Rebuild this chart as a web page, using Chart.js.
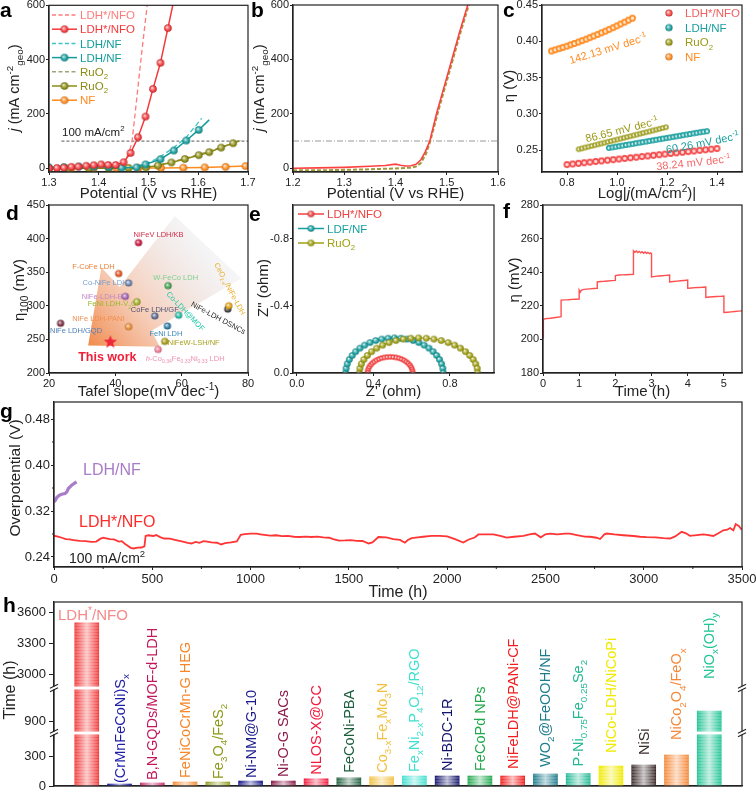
<!DOCTYPE html>
<html>
<head>
<meta charset="utf-8">
<title>LDH*/NFO OER figure</title>
<script src="https://cdn.jsdelivr.net/npm/chart.js@4.4.1/dist/chart.umd.min.js"></script>
<style>
  html, body { margin: 0; padding: 0; background: #fff; }
  #fig { position: relative; width: 756px; height: 792px; overflow: hidden; background: #fff; }
  #fig canvas { position: absolute; left: 0; top: 0; }
</style>
</head>
<body>
<div id="fig">
  <canvas id="pa" width="756" height="792"></canvas>
  <canvas id="pb" width="756" height="792"></canvas>
  <canvas id="pc" width="756" height="792"></canvas>
  <canvas id="pd" width="756" height="792"></canvas>
  <canvas id="pe" width="756" height="792"></canvas>
  <canvas id="pf" width="756" height="792"></canvas>
  <canvas id="pg" width="756" height="792"></canvas>
  <canvas id="ph" width="756" height="792"></canvas>
</div>
<script>
// ---- a: LSV curves (V vs RHE, mA cm-2) ----
const aStarV = [1.300,1.316,1.330,1.345,1.359,1.375,1.390,1.405,1.419,1.434,1.450,1.464,1.479,1.494,1.509,1.524,1.539,1.550];
const aStarJ = [0,1,2,5,6,9,11,14,12,12,22,56,114,190,292,388,516,610];
const aStarIrV = [1.430,1.445,1.455,1.462,1.467,1.476,1.486,1.498];
const aStarIrJ = [10,18,35,65,100,250,420,610];
const aLdhV = [1.300,1.330,1.360,1.390,1.420,1.446,1.476,1.494,1.524,1.551,1.576,1.601,1.622];
const aLdhJ = [3,4,6,5,4,2,3,14,33,65,102,141,178];
const aLdhIrV = [1.446,1.470,1.495,1.520,1.548,1.575,1.607];
const aLdhIrJ = [2,5,16,38,72,112,184];
const aRuV = [1.300,1.340,1.380,1.420,1.460,1.495,1.519,1.546,1.573,1.601,1.622,1.646,1.670,1.682];
const aRuJ = [-2,-1,0,0,1,3,10,21,34,48,59,76,92,100];
const aRuIrV = [1.495,1.520,1.550,1.580,1.610,1.640,1.685];
const aRuIrJ = [4,12,25,40,56,74,102];
const aNfV = [1.300,1.345,1.390,1.435,1.480,1.525,1.570,1.613,1.655,1.695];
const aNfJ = [0,0,0,1,1,1,2,3,5,8];
const aLegend = ['LDH*/NFO', 'LDH*/NFO', 'LDH/NF', 'LDH/NF', 'RuO_{2}', 'RuO_{2}', 'NF'];

// ---- b: LSV before / after ----
const bV1 = [1.20,1.25,1.30,1.35,1.38,1.40,1.41,1.42,1.43,1.44,1.45,1.458,1.467,1.48,1.495,1.51,1.525,1.541,1.545];
const bJ1 = [0,1,3,7,10,15,11,8,9,14,32,60,100,200,300,400,500,600,625];
const bV2 = [1.20,1.25,1.30,1.35,1.40,1.43,1.44,1.45,1.46,1.468,1.482,1.497,1.512,1.527,1.543,1.548];
const bJ2 = [-8,-8,-6,-4,-1,2,6,20,55,100,200,300,400,500,600,625];

// ---- c: Tafel plots (log j, eta V) ----
const cNfX = [0.738,0.753,0.769,0.784,0.800,0.815,0.830,0.846,0.861,0.877,0.892,0.907,0.923,0.938,0.954,0.969,0.985,1.000,1.015,1.031,1.046,1.062];
const cNfY = [0.3866,0.3882,0.3899,0.3916,0.3933,0.3952,0.3970,0.3990,0.4010,0.4030,0.4051,0.4073,0.4095,0.4117,0.4140,0.4164,0.4188,0.4213,0.4239,0.4265,0.4291,0.4318];
const cRuX = [0.847,0.860,0.873,0.886,0.899,0.912,0.925,0.937,0.950,0.963,0.976,0.989,1.002,1.015,1.028,1.041,1.054,1.067,1.080,1.093,1.105,1.118,1.131,1.144,1.157,1.170,1.183,1.196];
const cRuY = [0.2514,0.2525,0.2537,0.2548,0.2559,0.2570,0.2582,0.2592,0.2603,0.2615,0.2626,0.2637,0.2648,0.2660,0.2671,0.2682,0.2694,0.2705,0.2716,0.2727,0.2738,0.2749,0.2760,0.2772,0.2783,0.2794,0.2806,0.2817];
const cLdhX = [0.968,0.982,0.995,1.009,1.022,1.036,1.049,1.063,1.076,1.090,1.103,1.117,1.130,1.144,1.157,1.171,1.184,1.198,1.211,1.225,1.238,1.252,1.265,1.279,1.292,1.306,1.319,1.333,1.346,1.360];
const cLdhY = [0.2532,0.2540,0.2548,0.2556,0.2564,0.2572,0.2580,0.2588,0.2596,0.2604,0.2612,0.2620,0.2628,0.2636,0.2644,0.2652,0.2660,0.2668,0.2676,0.2684,0.2692,0.2700,0.2708,0.2716,0.2724,0.2732,0.2740,0.2748,0.2755,0.2762];
const cStarX = [0.800,0.823,0.846,0.869,0.892,0.915,0.938,0.962,0.985,1.008,1.031,1.054,1.077,1.100,1.123,1.146,1.169,1.192,1.215,1.238,1.262,1.285,1.308,1.331,1.354,1.377,1.400];
const cStarY = [0.2302,0.2311,0.2319,0.2328,0.2336,0.2345,0.2353,0.2362,0.2370,0.2379,0.2387,0.2396,0.2404,0.2413,0.2421,0.2430,0.2438,0.2447,0.2455,0.2464,0.2472,0.2481,0.2489,0.2498,0.2506,0.2515,0.2523];
const cLegend = ['LDH*/NFO', 'LDH/NF', 'RuO_{2}', 'NF'];
const cSlopes = ['142.13 mV dec^{-1}', '86.65 mV dec^{-1}', '60.26 mV dec^{-1}', '38.24 mV dec^{-1}'];

// ---- d: literature comparison (Tafel slope, eta100) ----
const dNames = ['NiFeV LDH/KB','F-CoFe LDH','Co-NiFe LDH','NiFe-LDH-Bi','FeNi LDH-V_{2}C','CoFe LDH/GF','NiFe LDH-PANI','NiFe LDH/GQD','W-FeCo LDH','Co-LDH@MOF','FeNi LDH','NiFeW-LSH/NF','~{h}-Co_{0.34}Fe_{0.33}Ni_{0.33} LDH','NiFe-LDH DSNCs','CeO_{2-x}/NiFe-LDH'];
const dTafel = [47.0,41.0,44.0,43.0,46.5,51.9,44.0,23.5,55.9,59.1,55.7,54.9,52.9,73.9,74.2];
const dEta100 = [394,348,334,314,306,285,269,274,330,286,270,247,235,295,300];
const dWorkTafel = [38.5];
const dWorkEta = [246];

// ---- e: Nyquist plots (ohm) ----
const eLdhX = [0.255,0.2572,0.2637,0.2744,0.2892,0.3077,0.3297,0.3548,0.3825,0.4124,0.4440,0.4767,0.5100,0.5433,0.5760,0.6076,0.6375,0.6652,0.6903,0.7123,0.7308,0.7456,0.7563,0.7628,0.7650];
const eLdhY = [0,-0.0273,-0.0541,-0.0800,-0.1045,-0.1272,-0.1478,-0.1658,-0.1810,-0.1931,-0.2019,-0.2072,-0.2090,-0.2072,-0.2019,-0.1931,-0.1810,-0.1658,-0.1478,-0.1272,-0.1045,-0.0800,-0.0541,-0.0273,0];
const eRuX = [0.327,0.3297,0.3375,0.3505,0.3684,0.3908,0.4175,0.4479,0.4815,0.5177,0.5560,0.5957,0.6360,0.6763,0.7160,0.7543,0.7905,0.8241,0.8545,0.8812,0.9036,0.9215,0.9345,0.9423,0.9450];
const eRuY = [0,-0.0273,-0.0541,-0.0800,-0.1045,-0.1272,-0.1478,-0.1658,-0.1810,-0.1931,-0.2019,-0.2072,-0.2090,-0.2072,-0.2019,-0.1931,-0.1810,-0.1658,-0.1478,-0.1272,-0.1045,-0.0800,-0.0541,-0.0273,0];
const eStarX = [0.3695,0.3705,0.3735,0.3785,0.3853,0.3939,0.4041,0.4157,0.4285,0.4423,0.4570,0.4721,0.4875,0.5029,0.5180,0.5327,0.5465,0.5593,0.5709,0.5811,0.5897,0.5965,0.6015,0.6045,0.6055];
const eStarY = [0,-0.0125,-0.0248,-0.0367,-0.0480,-0.0584,-0.0679,-0.0762,-0.0831,-0.0887,-0.0927,-0.0952,-0.0960,-0.0952,-0.0927,-0.0887,-0.0831,-0.0762,-0.0679,-0.0584,-0.0480,-0.0367,-0.0248,-0.0125,0];
const eLegend = ['LDH*/NFO', 'LDF/NF', 'RuO_{2}'];

// ---- f: multi-step chronopotentiometry (h, mV) ----
const fTime = [0,0.01,0.03,0.1,0.2,0.3,0.4,0.5, 0.5,0.6,0.7,0.8,0.9,1.0, 1.0,1.03,1.06,1.1,1.2,1.3,1.4,1.5,
  1.5,1.6,1.7,1.8,1.9,2.0, 2.0,2.1,2.2,2.3,2.4,2.5, 2.5,2.54,2.58,2.62,2.66,2.7,2.74,2.78,2.82,2.86,2.9,2.94,2.98,3.0,
  3.0,3.1,3.2,3.3,3.4,3.5, 3.5,3.6,3.7,3.8,3.9,4.0, 4.0,4.1,4.2,4.3,4.4,4.5, 4.5,4.6,4.7,4.8,4.9,5.0, 5.0,5.1,5.2,5.3,5.4,5.5];
const fEta = [201,211.4,212.1,212.4,212.6,212.9,213.2,213.5, 223.4,223.5,223.6,223.8,223.9,224.0, 229.4,228.2,229.2,229.6,229.9,230.1,230.3,230.4,
  234.2,234.5,234.6,234.8,235.0,235.1, 238.0,238.3,238.4,238.5,238.6,238.7, 252.8,251.9,252.6,251.7,252.4,251.5,252.2,251.3,252.0,251.2,251.8,251.0,251.5,250.8,
  237.2,237.5,237.7,237.9,238.1,238.3, 234.2,234.5,234.7,234.9,235.1,235.3, 230.4,230.6,230.8,230.9,231.0,231.2, 225.0,225.2,225.4,225.5,225.6,225.8, 216.0,216.2,216.4,216.6,216.8,217.0];

// ---- g: long-term stability at 100 mA/cm2 (h, V) ----
const gTime = [0,20,40,60,80,100,130,160,190,215,
  235,250,265,285,305,330,345,360,375,390,
  405,425,445,460,466,480,505,520,540,560,
  590,620,650,680,700,720,740,760,780,800,
  830,850,870,900,930,950,970,1000,1030,1050,
  1080,1100,1130,1160,1190,1220,1250,1280,1310,1340,
  1370,1400,1420,1450,1480,1510,1540,1570,1600,1620,
  1650,1690,1726,1760,1785,1800,1820,1850,1878,1920,
  1963,2000,2040,2082,2110,2140,2159,2190,2235,2270,
  2303,2340,2388,2420,2447,2476,2500,2523,2560,2600,
  2625,2660,2700,2727,2760,2778,2800,2812,2850,2896,
  2950,2980,3015,3060,3100,3134,3160,3193,3215,3235,
  3270,3303,3330,3354,3380,3405,3425,3439,3456,3468,
  3485,3498];
const gEta = [0.2770,0.2755,0.2735,0.2710,0.2705,0.2695,0.2680,0.2675,0.2662,0.2668,
  0.2715,0.2735,0.2725,0.2712,0.2705,0.2668,0.2675,0.2630,0.2595,0.2560,
  0.2548,0.2562,0.2565,0.2585,0.2766,0.2778,0.2765,0.2782,0.2745,0.2722,
  0.2718,0.2695,0.2672,0.2645,0.2635,0.2662,0.2645,0.2675,0.2668,0.2655,
  0.2648,0.2618,0.2642,0.2655,0.2672,0.2785,0.2798,0.2808,0.2805,0.2795,
  0.2782,0.2772,0.2778,0.2762,0.2768,0.2752,0.2748,0.2755,0.2748,0.2755,
  0.2742,0.2735,0.2712,0.2685,0.2688,0.2695,0.2682,0.2678,0.2635,0.2655,
  0.2748,0.2742,0.2712,0.2698,0.2648,0.2695,0.2728,0.2742,0.2752,0.2768,
  0.2768,0.2758,0.2712,0.2652,0.2705,0.2738,0.2792,0.2795,0.2795,0.2768,
  0.2738,0.2752,0.2768,0.2792,0.2808,0.2742,0.2795,0.2808,0.2795,0.2808,
  0.2805,0.2782,0.2755,0.2752,0.2735,0.2712,0.2795,0.2808,0.2792,0.2778,
  0.2765,0.2752,0.2745,0.2742,0.2728,0.2722,0.2758,0.2838,0.2812,0.2768,
  0.2782,0.2795,0.2782,0.2766,0.2812,0.2865,0.2875,0.2905,0.2865,0.2972,
  0.2935,0.2876];
const gNfTime = [0,7,14,25,39,56,65,73,90,105,115];
const gNfEta = [0.3359,0.3385,0.3434,0.3470,0.3492,0.3504,0.3530,0.3591,0.3649,0.3685,0.3707];

// ---- h: stability time of reported catalysts (h) ----
const hCats = ['LDH^{*}/NFO','(CrMnFeCoNi)S_{x}','B,N-GQDs/MOF-d-LDH','FeNiCoCrMn-G HEG','Fe_{3}O_{4}/FeS_{2}','Ni-NM@G-10','Ni-O-G SACs','NLOS-X@CC','FeCoNi-PBA','Co_{3-x}Fe_{x}Mo_{3}N','Fe_{x}Ni_{2-x}P_{4}O_{12}/RGO','Ni-BDC-1R','FeCoPd NPs','NiFeLDH@PANi-CF','WO_{2}@FeOOH/NF','P-Ni_{0.75}Fe_{0.25}Se_{2}','NiCo-LDH/NiCoPi','NiSi','NiCo_{2}O_{4}/FeO_{x}','NiO_{x}(OH)_{y}'];
const hHours = [3500,20,30,40,40,50,50,72,82,92,100,100,100,100,120,125,200,210,310,1000];
const hTickHours = [0,300,900,3000,3300,3600];

// ---------------------------------------------------------------
const FONT = "'Liberation Sans', Arial, Helvetica, sans-serif";
const INK = '#222222';
const W = 756, H = 792;
const RED = '#f4383c', RED_L = '#ff7b7b', TEAL = '#139c9c', TEAL_L = '#3cc4c4';
const OLIVE = '#8c8c14', OLIVE_L = '#a3a37a', ORANGE = '#ff8a1e';

Chart.defaults.font.family = FONT;
Chart.defaults.color = INK;
Chart.defaults.animation = false;
Chart.defaults.responsive = false;
Chart.defaults.devicePixelRatio = 1;
Chart.defaults.events = [];
Chart.defaults.plugins.legend.display = false;
Chart.defaults.plugins.tooltip.enabled = false;

function mix(hex, to, t) {
  const p = h => [1, 3, 5].map(i => parseInt(h.slice(i, i + 2), 16));
  const a = p(hex), b = p(to);
  return 'rgb(' + a.map((v, i) => Math.round(v + (b[i] - v) * t)).join(',') + ')';
}

// small shaded ball used as marker
function sphere(col, r) {
  const s = Math.ceil(r * 2) + 2, m = s / 2;
  const c = document.createElement('canvas');
  c.width = c.height = s;
  const g = c.getContext('2d');
  const gr = g.createRadialGradient(m - r * 0.3, m - r * 0.3, 0, m, m, r);
  gr.addColorStop(0, '#ffffff');
  gr.addColorStop(0.35, mix(col, '#ffffff', 0.4));
  gr.addColorStop(0.75, col);
  gr.addColorStop(1, mix(col, '#000000', 0.3));
  g.fillStyle = gr;
  g.beginPath(); g.arc(m, m, r, 0, 2 * Math.PI); g.fill();
  return c;
}

// open-looking marker: coloured ring with a pale centre
function ring(col, r) {
  const s = Math.ceil(r * 2) + 2, m = s / 2;
  const c = document.createElement('canvas');
  c.width = c.height = s;
  const g = c.getContext('2d');
  g.fillStyle = col;
  g.beginPath(); g.arc(m, m, r, 0, 2 * Math.PI); g.fill();
  g.fillStyle = mix(col, '#ffffff', 0.8);
  g.beginPath(); g.arc(m, m, r * 0.5, 0, 2 * Math.PI); g.fill();
  return c;
}

function star(col, r) {
  const s = Math.ceil(r * 2) + 2, m = s / 2;
  const c = document.createElement('canvas');
  c.width = c.height = s;
  const g = c.getContext('2d');
  g.fillStyle = col;
  g.beginPath();
  for (let k = 0; k < 10; k++) {
    const rr = k % 2 ? r * 0.42 : r, a = -Math.PI / 2 + k * Math.PI / 5;
    g.lineTo(m + rr * Math.cos(a), m + rr * Math.sin(a));
  }
  g.closePath(); g.fill();
  return c;
}

// tiny markup: _{sub} ^{sup} ~{italic}
function parse(s) {
  const out = [];
  let buf = '', i = 0;
  while (i < s.length) {
    const c = s[i];
    if ((c === '_' || c === '^' || c === '~') && s[i + 1] === '{') {
      if (buf) out.push([buf, '']);
      buf = '';
      const j = s.indexOf('}', i);
      out.push([s.slice(i + 2, j), c === '_' ? 'sub' : c === '^' ? 'sup' : 'i']);
      i = j + 1;
    } else { buf += c; i++; }
  }
  if (buf) out.push([buf, '']);
  return out;
}

function rich(ctx, s, x, y, o = {}) {
  const size = o.size || 11;
  const segs = parse(s).map(([t, k]) => {
    const small = k === 'sub' || k === 'sup';
    const f = (k === 'i' ? 'italic ' : '') + (o.bold ? 'bold ' : '') + (small ? size * 0.68 : size) + 'px ' + FONT;
    ctx.font = f;
    return { t, k, f, w: ctx.measureText(t).width };
  });
  const total = segs.reduce((a, g) => a + g.w, 0);
  ctx.save();
  ctx.translate(x, y);
  if (o.rot) ctx.rotate(o.rot * Math.PI / 180);
  ctx.fillStyle = o.color || INK;
  ctx.textBaseline = 'alphabetic';
  ctx.textAlign = 'left';
  let cx = o.align === 'left' ? 0 : o.align === 'right' ? -total : -total / 2;
  const by = o.mid ? size * 0.36 : 0;
  for (const g of segs) {
    ctx.font = g.f;
    const dy = g.k === 'sub' ? size * 0.28 : g.k === 'sup' ? -size * 0.42 : 0;
    ctx.fillText(g.t, cx, by + dy);
    cx += g.w;
  }
  ctx.restore();
  return total;
}

function letter(ctx, s, x, y) { rich(ctx, s, x, y, { size: 21, bold: true, align: 'left', color: '#000000' }); }

// chart area placed at page pixels L..R, T..B
function place(L, T, R, B, yW, xH) {
  return { padding: { left: L - yW, top: T, right: W - R, bottom: H - B - xH } };
}

function lin(pos, min, max, ticks, fmt, o = {}) {
  const horiz = pos === 'bottom';
  const show = o.labels !== false;
  return {
    type: 'linear', position: pos, min, max, reverse: !!o.reverse, offset: false,
    afterBuildTicks: s => { s.ticks = ticks.map(v => ({ value: v })); },
    afterFit: s => {
      if (horiz) s.height = o.size; else s.width = o.size;
      s.paddingLeft = s.paddingRight = s.paddingTop = s.paddingBottom = 0;
    },
    ticks: { display: show, autoSkip: false, maxRotation: 0, minRotation: 0, padding: o.pad ?? 1,
      font: { size: o.font || 11 }, color: INK, callback: fmt },
    grid: { display: true, offset: false, drawOnChartArea: false, drawTicks: show, tickLength: o.tl || 3, color: INK },
    border: { display: true, color: INK, width: 1.2 },
  };
}

function pts(xs, ys) { return xs.map((x, i) => ({ x, y: ys[i] })); }

function line(xs, ys, col, o = {}) {
  const n = xs.length;
  const ds = {
    data: pts(xs, ys), showLine: o.show !== false, borderColor: col, backgroundColor: col,
    borderWidth: o.bw || 1.5, borderDash: o.dash || [], pointRadius: 0, pointHoverRadius: 0,
  };
  if (o.mark) {
    ds.pointStyle = (o.ring ? ring : sphere)(col, o.mark);
    ds.pointRadius = o.lastBare ? c => (c.dataIndex === n - 1 ? 0 : o.mark) : o.mark;
  }
  return ds;
}

function deco(o) {
  return {
    id: 'deco',
    beforeDatasetsDraw(chart) { if (o.under) o.under(chart, chart.ctx, chart.scales); },
    afterDatasetsDraw(chart) { if (o.over) o.over(chart, chart.ctx, chart.scales); },
    afterDraw(chart) {
      const { ctx, chartArea: a } = chart;
      ctx.save();
      ctx.strokeStyle = INK; ctx.lineWidth = 1.2;
      ctx.strokeRect(a.left, a.top, a.right - a.left, a.bottom - a.top);
      ctx.restore();
      if (o.text) o.text(chart, ctx, chart.scales);
    },
  };
}

function hline(ctx, s, x0, x1, v, col, dash) {
  const y = s.y.getPixelForValue(v);
  ctx.save();
  ctx.strokeStyle = col; ctx.lineWidth = 1.2; ctx.setLineDash(dash);
  ctx.beginPath(); ctx.moveTo(s.x.getPixelForValue(x0), y); ctx.lineTo(s.x.getPixelForValue(x1), y); ctx.stroke();
  ctx.restore();
}

function legendRow(ctx, x0, x1, y, col, kind, label, tx, size, r, tcol) {
  ctx.save();
  ctx.strokeStyle = col; ctx.lineWidth = 1.5;
  if (kind !== 'dot') {
    ctx.setLineDash(kind === 'dash' ? [4, 2.5] : []);
    ctx.beginPath(); ctx.moveTo(x0, y); ctx.lineTo(x1, y); ctx.stroke();
  }
  ctx.restore();
  if (kind !== 'dash') {
    const im = sphere(col, r || 3.8);
    ctx.drawImage(im, (x0 + x1) / 2 - im.width / 2, y - im.height / 2);
  }
  rich(ctx, label, tx, y, { size, align: 'left', mid: true, color: tcol || col });
}

// ================= a =================
new Chart(document.getElementById('pa'), {
  type: 'scatter',
  data: { datasets: [
    line(aStarV, aStarJ, RED, { mark: 3.8, lastBare: true }),
    line(aStarIrV, aStarIrJ, RED_L, { dash: [5, 3], bw: 1.3 }),
    line(aLdhV, aLdhJ, TEAL, { mark: 3.8, lastBare: true }),
    line(aLdhIrV, aLdhIrJ, TEAL_L, { dash: [5, 3], bw: 1.3 }),
    line(aRuV, aRuJ, OLIVE, { mark: 3.8, lastBare: true }),
    line(aRuIrV, aRuIrJ, OLIVE_L, { dash: [5, 3], bw: 1.3 }),
    line(aNfV, aNfJ, ORANGE, { mark: 3.8 }),
  ] },
  options: {
    layout: place(49, 5, 248, 172, 49, 26),
    scales: {
      x: lin('bottom', 1.3, 1.7, [1.3, 1.4, 1.5, 1.6, 1.7], v => v.toFixed(1), { size: 26 }),
      y: lin('left', -14, 600, [0, 200, 400, 600], v => v, { size: 49 }),
    },
  },
  plugins: [deco({
    under(ch, ctx, s) { hline(ctx, s, 1.325, 1.7, 100, '#7a7a7a', [3, 2]); },
    text(ch, ctx) {
      letter(ctx, 'a', 0, 17);
      rich(ctx, '~{j} (mA cm^{-2}_{geo})', 19, 88, { size: 14.5, rot: -90 });
      rich(ctx, 'Potential (V vs RHE)', 148.5, 198, { size: 15 });
      rich(ctx, '100 mA/cm^{2}', 62, 136, { size: 11.5, align: 'left' });
      const cols = [RED_L, RED, TEAL_L, TEAL, OLIVE_L, OLIVE, ORANGE];
      const tcols = [RED_L, RED, TEAL, TEAL, OLIVE, OLIVE, ORANGE];
      const kinds = ['dash', 'mark', 'dash', 'mark', 'dash', 'mark', 'mark'];
      aLegend.forEach((name, i) => legendRow(ctx, 52, 77, 15 + i * 14.2, cols[i], kinds[i], name, 80, 11.5, 3.8, tcols[i]));
    },
  })],
});

// ================= b =================
new Chart(document.getElementById('pb'), {
  type: 'scatter',
  data: { datasets: [
    line(bV1, bJ1, '#ff4040', { bw: 1.6 }),
    line(bV2, bJ2, '#9e9a3c', { bw: 2, dash: [4, 2] }),
  ] },
  options: {
    layout: place(293, 5, 498, 172, 49, 26),
    scales: {
      x: lin('bottom', 1.2, 1.6, [1.2, 1.3, 1.4, 1.5, 1.6], v => v.toFixed(1), { size: 26 }),
      y: lin('left', -14, 600, [0, 200, 400, 600], v => v, { size: 49 }),
    },
  },
  plugins: [deco({
    under(ch, ctx, s) { hline(ctx, s, 1.2, 1.6, 100, '#9a9a9a', [6, 2, 1, 2]); },
    text(ch, ctx) {
      letter(ctx, 'b', 251, 17);
      rich(ctx, '~{j} (mA cm^{-2}_{geo})', 264, 88, { size: 14.5, rot: -90 });
      rich(ctx, 'Potential (V vs RHE)', 395.5, 198, { size: 15 });
    },
  })],
});

// ================= c =================
const C_RED = '#f44848', C_TEAL = '#1a9e9e', C_OLIVE = '#9a9a18', C_ORANGE = '#ff8c22';
new Chart(document.getElementById('pc'), {
  type: 'scatter',
  data: { datasets: [
    line(cStarX, cStarY, C_RED, { show: false, mark: 3.4, ring: true }),
    line(cLdhX, cLdhY, C_TEAL, { show: false, mark: 3.0, ring: true }),
    line(cRuX, cRuY, C_OLIVE, { show: false, mark: 2.8, ring: true }),
    line(cNfX, cNfY, C_ORANGE, { show: false, mark: 3.4, ring: true }),
  ] },
  options: {
    layout: place(542, 5, 742, 172, 49, 26),
    scales: {
      x: lin('bottom', 0.7, 1.5, [0.8, 1.0, 1.2, 1.4], v => v.toFixed(1), { size: 26 }),
      y: lin('left', 0.22, 0.45, [0.25, 0.30, 0.35, 0.40, 0.45], v => v.toFixed(2), { size: 49 }),
    },
  },
  plugins: [deco({
    text(ch, ctx) {
      letter(ctx, 'c', 503, 17);
      rich(ctx, '\u03b7 (V)', 514, 86, { size: 15, rot: -90 });
      rich(ctx, 'Log|~{j}(mA/cm^{2})|', 647, 198, { size: 15 });
      const cols = [C_RED, C_TEAL, C_OLIVE, C_ORANGE];
      cLegend.forEach((name, i) => {
        const im = sphere(cols[i], 3.6);
        const y = 13 + i * 14.6;
        ctx.drawImage(im, 669 - im.width / 2, y - im.height / 2);
        rich(ctx, name, 685, y, { size: 11.5, align: 'left', mid: true, color: i === 0 ? '#f46060' : cols[i] });
      });
      const place2 = [[607.8, 48.5, -17, C_ORANGE], [621.7, 129.5, -14, C_OLIVE], [702.5, 142.5, -11, C_TEAL], [693.3, 162.3, -6, '#f46a6a']];
      cSlopes.forEach((t, i) => {
        const p = place2[i];
        rich(ctx, t, p[0], p[1], { size: 11, rot: p[2], mid: true, color: p[3] });
      });
    },
  })],
});

// ================= d =================
const dMarkCol = ['#c8103c','#e0501a','#6680aa','#a060b0','#a0b028','#5a6a90','#e88a30','#7a2a40','#40a050','#20b8a0','#2a78a0','#a89810','#f07890','#404040','#e0a010'];
const dTextCol = ['#d0304a','#e8803a','#78a0cc','#c088c8','#98b830','#505070','#f09050','#5080b8','#80d090','#20c8a8','#3a88b8','#a8a020','#f090b0','#222222','#e8b030'];
const dDx = [20, -4, -1, -1, -0.5, 0, -4, -10.6, 7.6, 7, -1.5, 3, 27, -9.4, 1.3];
const dDy = [-8, -7, -1, 0, 2, -7, -8, 7, -8, -4, 7, 1, 9, 8.5, -17];
const dAlign = ['center','right','right','right','right','center','right','left','center','center','center','left','center','center','center'];
const dRot = [0, 0, 0, 0, 0, 0, 0, 0, 0, 46, 0, 0, 0, 28, 62];
const dArrow = [[31.8, 241], [35.8, 357], [41.3, 328], [57.9, 433.6], [78, 340.7], [50.9, 263], [53.4, 239]];
new Chart(document.getElementById('pd'), {
  type: 'scatter',
  data: { datasets: [
    { data: pts(dWorkTafel, dWorkEta), pointStyle: star('#f0283c', 7), pointRadius: 6 },
    { data: pts(dTafel, dEta100), pointStyle: dMarkCol.map(c => sphere(c, 3.6)), pointRadius: 3.6 },
  ] },
  options: {
    layout: place(49, 205, 248, 373, 49, 26),
    scales: {
      x: lin('bottom', 20, 80, [20, 40, 60, 80], v => v, { size: 26 }),
      y: lin('left', 200, 450, [200, 250, 300, 350, 400, 450], v => v, { size: 49 }),
    },
  },
  plugins: [deco({
    under(ch, ctx, s) {
      const P = dArrow.map(([x, y]) => [s.x.getPixelForValue(x), s.y.getPixelForValue(y)]);
      const g = ctx.createLinearGradient(P[0][0], P[0][1], (P[3][0] + P[4][0]) / 2, (P[3][1] + P[4][1]) / 2);
      g.addColorStop(0, 'rgba(240,125,55,0.9)');
      g.addColorStop(0.45, 'rgba(240,180,150,0.6)');
      g.addColorStop(1, 'rgba(215,215,222,0.25)');
      ctx.save();
      ctx.fillStyle = g;
      ctx.beginPath();
      P.forEach(([x, y], i) => (i ? ctx.lineTo(x, y) : ctx.moveTo(x, y)));
      ctx.closePath(); ctx.fill();
      ctx.restore();
      const meta = ch.getDatasetMeta(1);
      dNames.forEach((name, i) => {
        const el = meta.data[i];
        rich(ctx, name, el.x + dDx[i], el.y + dDy[i], { size: 7.5, align: dAlign[i], rot: dRot[i], mid: true, color: dTextCol[i] });
      });
      const w = ch.getDatasetMeta(0).data[0];
      rich(ctx, 'This work', w.x - 3, w.y + 14, { size: 12.5, bold: true, mid: true, color: '#f0203a' });
    },
    text(ch, ctx) {
      letter(ctx, 'd', 6, 220);
      rich(ctx, '\u03b7_{100} (mV)', 24, 290, { size: 15, rot: -90 });
      rich(ctx, 'Tafel slope(mV dec^{-1})', 148.5, 396, { size: 15 });
    },
  })],
});

// ================= e =================
const E_RED = '#f04040', E_TEAL = '#159f9f', E_OLIVE = '#a0a010';
new Chart(document.getElementById('pe'), {
  type: 'scatter',
  data: { datasets: [
    line(eStarX, eStarY, E_RED, { mark: 2.7, bw: 1, ring: true }),
    line(eRuX, eRuY, E_OLIVE, { mark: 3.3, bw: 1 }),
    line(eLdhX, eLdhY, E_TEAL, { mark: 3.3, bw: 1 }),
  ] },
  options: {
    layout: place(293, 205, 494, 373, 49, 26),
    scales: {
      x: lin('bottom', -0.02, 1.03, [0, 0.4, 0.8], v => v.toFixed(1), { size: 26 }),
      y: lin('left', -1, 0, [0, -0.4, -0.8], v => v.toFixed(1), { size: 49, reverse: true }),
    },
  },
  plugins: [deco({
    text(ch, ctx) {
      letter(ctx, 'e', 249, 221);
      rich(ctx, 'Z" (ohm)', 268, 288, { size: 15, rot: -90 });
      rich(ctx, "Z' (ohm)", 393.5, 396, { size: 15 });
      const cols = [E_RED, E_TEAL, E_OLIVE];
      eLegend.forEach((name, i) => legendRow(ctx, 298, 324, 214 + i * 14.5, cols[i], 'mark', name, 327, 11.5, 3.3));
    },
  })],
});

// ================= f =================
new Chart(document.getElementById('pf'), {
  type: 'scatter',
  data: { datasets: [line(fTime, fEta, '#ff5050', { bw: 1.4 })] },
  options: {
    layout: place(543, 205, 742, 373, 49, 26),
    scales: {
      x: lin('bottom', 0, 5.5, [0, 1, 2, 3, 4, 5], v => v, { size: 26 }),
      y: lin('left', 180, 280, [180, 200, 220, 240, 260, 280], v => v, { size: 49 }),
    },
  },
  plugins: [deco({
    text(ch, ctx) {
      letter(ctx, 'f', 503, 218);
      rich(ctx, '\u03b7 (mV)', 519, 280, { size: 15, rot: -90 });
      rich(ctx, 'Time (h)', 642.5, 396, { size: 15 });
    },
  })],
});

// ================= g =================
new Chart(document.getElementById('pg'), {
  type: 'scatter',
  data: { datasets: [
    line(gTime, gEta, '#ff3535', { bw: 1.8 }),
    line(gNfTime, gNfEta, '#a87cc8', { bw: 3.2 }),
  ] },
  options: {
    layout: place(54, 402, 742, 567, 54, 30),
    scales: {
      x: lin('bottom', 0, 3500, [0, 500, 1000, 1500, 2000, 2500, 3000, 3500], v => v, { size: 30, font: 13, pad: 2 }),
      y: lin('left', 0.2226, 0.5096, [0.24, 0.32, 0.40, 0.48], v => v.toFixed(2), { size: 54, font: 13 }),
    },
  },
  plugins: [deco({
    text(ch, ctx, s) {
      ctx.save();
      ctx.strokeStyle = INK; ctx.lineWidth = 1;
      const a = ch.chartArea;
      for (let t = 250; t < 3500; t += 500) {
        const x = s.x.getPixelForValue(t);
        ctx.beginPath(); ctx.moveTo(x, a.bottom); ctx.lineTo(x, a.bottom + 2); ctx.stroke();
      }
      for (let v = 0.28; v < 0.5; v += 0.08) {
        const y = s.y.getPixelForValue(v);
        ctx.beginPath(); ctx.moveTo(a.left, y); ctx.lineTo(a.left - 2, y); ctx.stroke();
      }
      ctx.restore();
      letter(ctx, 'g', 0, 418);
      rich(ctx, 'Overpotential (V)', 20, 478, { size: 15.5, rot: -90 });
      rich(ctx, 'Time (h)', 398, 597, { size: 16 });
      rich(ctx, 'LDH/NF', 83, 475, { size: 16, align: 'left', color: '#a87cc8' });
      rich(ctx, 'LDH*/NFO', 79, 527, { size: 16, align: 'left', color: '#ff2a2a' });
      rich(ctx, '100 mA/cm^{2}', 69, 563, { size: 14, align: 'left' });
    },
  })],
});

// ================= h (broken axis) =================
function hMap(v) {
  if (v <= 530) return v / 10;
  if (v <= 1230) return 53 + (v - 780) / 10;
  return 98 + (v - 2870) * 31 / 300;
}
const hBreaks = [53, 98];
const hColors = ['#f23c3c','#1c1ca8','#c2185b','#f7862a','#8c9a18','#1a1a8c','#8c1c4c','#f2183c','#1e5e3e','#f2c040','#3ee0d0','#14146e','#22a84e','#f21c1c','#1c7c8c','#22b894','#f0ea00','#3c2c2c','#f58838','#22c495'];
const hTextCol = ['#f58a8a','#1c1ca8','#c2185b','#f7862a','#8c9a18','#1a1a8c','#8c1c4c','#f2183c','#1e5e3e','#f2c040','#3ee0d0','#14146e','#22a84e','#f21c1c','#1c7c8c','#22b894','#f0ea00','#3c2c2c','#f58838','#22c495'];
const hGap = [0, 1, 3, 4, 3, 3, 4, 4, 5, 4, 4, 5, 5, 7, 7, 7, 13, 10, 15, 32];
new Chart(document.getElementById('ph'), {
  type: 'bar',
  data: { datasets: [{
    data: hHours.map((v, i) => ({ x: i + 1, y: hMap(v) })),
    barThickness: 24,
    borderWidth: 0,
    backgroundColor: c => {
      const col = hColors[c.dataIndex] || hColors[0];
      const xs = c.chart.scales.x;
      if (!xs || !c.parsed) return col;
      const xc = xs.getPixelForValue(c.parsed.x);
      if (!isFinite(xc)) return col;
      const g = c.chart.ctx.createLinearGradient(xc - 12, 0, xc + 12, 0);
      g.addColorStop(0, col);
      g.addColorStop(0.5, mix(col, '#ffffff', 0.7));
      g.addColorStop(1, col);
      return g;
    },
  }] },
  options: {
    layout: place(54, 602, 742, 786, 54, 4),
    scales: {
      x: lin('bottom', 0, 21, [], v => '', { size: 4, labels: false }),
      y: lin('left', 0, 184, hTickHours.map(hMap), (v, i) => hTickHours[i], { size: 54, font: 13, tl: 5, pad: 3 }),
    },
  },
  plugins: [deco({
    over(ch, ctx) {
      // horizontal stripes on the bars
      ch.getDatasetMeta(0).data.forEach(el => {
        const { x, y, base, width } = el.getProps(['x', 'y', 'base', 'width'], true);
        ctx.save();
        ctx.beginPath(); ctx.rect(x - width / 2, y, width, base - y); ctx.clip();
        ctx.strokeStyle = 'rgba(255,255,255,0.35)'; ctx.lineWidth = 1;
        for (let yy = base - 1.5; yy > y; yy -= 3) {
          ctx.beginPath(); ctx.moveTo(x - width / 2, yy); ctx.lineTo(x + width / 2, yy); ctx.stroke();
        }
        ctx.restore();
      });
    },
    text(ch, ctx, s) {
      const a = ch.chartArea;
      // axis breaks
      hBreaks.forEach(b => {
        const y = s.y.getPixelForValue(b);
        ctx.fillStyle = '#ffffff';
        ctx.fillRect(a.left - 6, y - 1.5, a.right - a.left + 12, 3);
        ctx.save();
        ctx.strokeStyle = INK; ctx.lineWidth = 1.1;
        [a.left, a.right].forEach(x => {
          [-1.8, 1.8].forEach(off => {
            ctx.beginPath(); ctx.moveTo(x - 4, y + off + 2); ctx.lineTo(x + 4, y + off - 2); ctx.stroke();
          });
        });
        ctx.restore();
      });
      letter(ctx, 'h', 3, 612);
      rich(ctx, 'Time (h)', 15, 690, { size: 16, rot: -90 });
      const meta = ch.getDatasetMeta(0);
      hCats.forEach((name, i) => {
        const el = meta.data[i];
        if (i === 0) {
          rich(ctx, name, 58, 620, { size: 15, align: 'left', color: hTextCol[0] });
          return;
        }
        rich(ctx, name, el.x + 5, el.y - hGap[i], { size: 14.5, rot: -90, align: 'left', color: hTextCol[i] });
      });
    },
  })],
});
</script>
</body>
</html>
